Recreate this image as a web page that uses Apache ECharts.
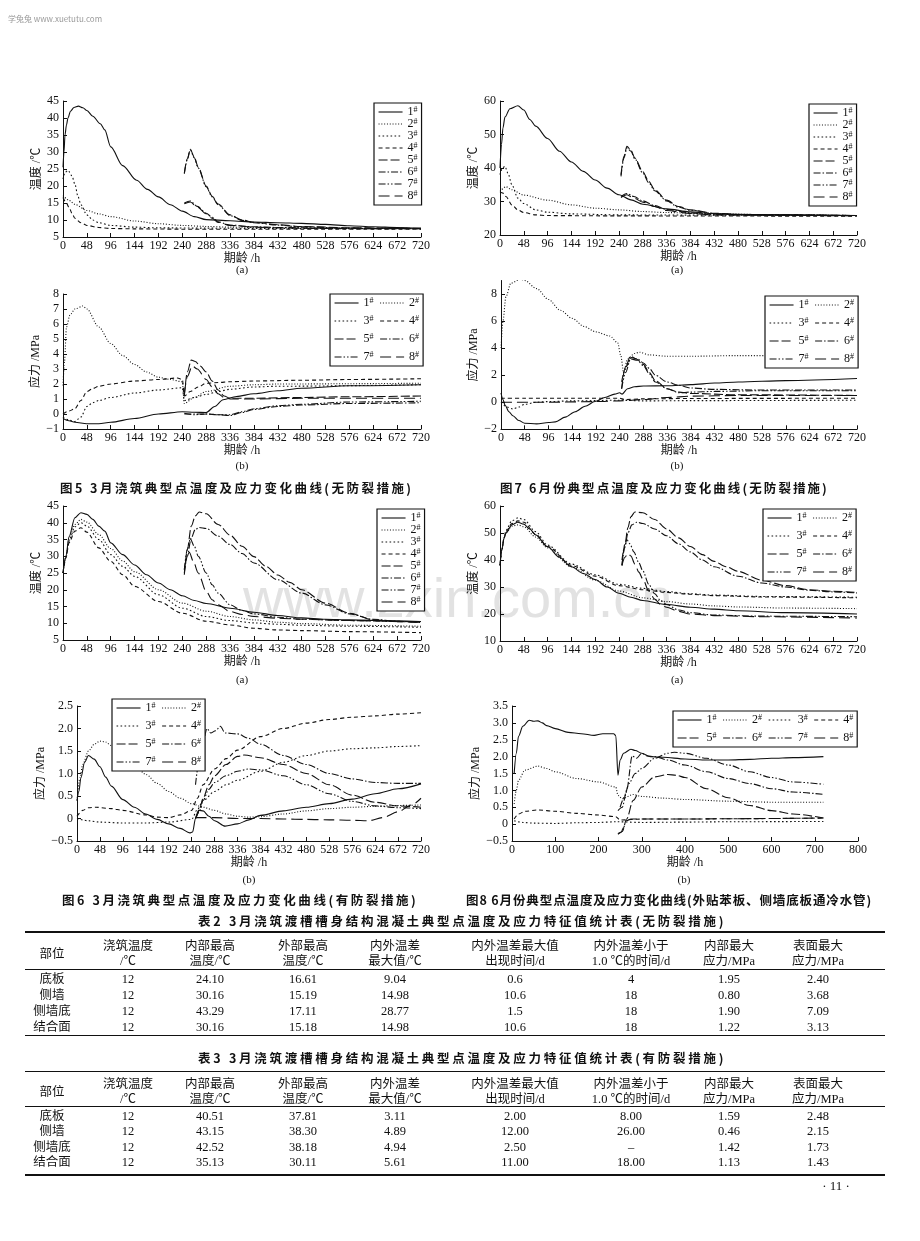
<!DOCTYPE html>
<html><head><meta charset="utf-8">
<script src="https://cdn.jsdelivr.net/npm/echarts@6/dist/echarts.min.js"></script>
<style>
html,body{margin:0;padding:0;background:#fff;}
#page{position:relative;width:920px;height:1241px;overflow:hidden;background:#fff;}
#chart{position:absolute;left:0;top:0;width:920px;height:1241px;}
.cap{position:absolute;font-family:"Noto Sans CJK SC";font-weight:bold;font-size:12.5px;color:#111;white-space:nowrap;line-height:14px;}
.cell{position:absolute;transform:translate(-50%,-50%);white-space:nowrap;line-height:1;font-family:"Liberation Serif","Noto Sans CJK SC";font-size:12.5px;color:#111;}
.rule{position:absolute;background:#111;}
</style></head>
<body><div id="page"><div id="chart"></div></div>
<script>
// ---------------- DATA ----------------
const seriesNames = ['1#','2#','3#','4#','5#','6#','7#','8#'];
const xTicks720 = [0,720,48];
const xTicks800 = [0,800,100];

// Fig.5(a) 3月 温度 无防裂措施
const f5a_1 = [[0,25.5],[2,30],[4,35],[7,38],[10,40],[15,42],[22,43.1],[31,43.5],[40,43],[48,42.2],[60,40.5],[75,38.3],[84,36.5],[96,31.5],[120,26],[148,21.7],[170,19],[192,16.8],[216,14.5],[240,12.6],[264,11],[288,10.1],[336,9.8],[384,9.4],[432,9.2],[480,9.0],[528,8.7],[576,8.3],[624,8.0],[672,7.8],[720,7.6]];
const f5a_2 = [[0,17.2],[12,15.8],[24,14.6],[48,12.8],[72,11.8],[96,11.0],[144,9.7],[192,8.9],[240,8.4],[288,8.1],[336,7.9],[432,7.7],[528,7.6],[624,7.5],[720,7.5]];
const f5a_3 = [[0,22],[4,24],[10,24.6],[18,23],[24,20.5],[30,17],[36,14.5],[48,11.5],[60,10],[72,9.2],[96,8.4],[144,7.9],[192,7.7],[288,7.6],[432,7.5],[720,7.4]];
const f5a_4 = [[0,16.6],[6,15.2],[12,13.8],[18,12],[24,10.5],[36,9.2],[48,8.4],[72,7.8],[96,7.5],[144,7.4],[240,7.3],[480,7.3],[720,7.3]];
const f5a_5 = [[244,23.8],[250,28],[256,30.8],[264,28.5],[272,25.5],[288,20],[300,17],[312,14.7],[336,11.5],[360,10],[384,9.3],[432,8.6],[480,8.1],[576,7.7],[720,7.5]];
const f5a_6 = [[244,15.0],[256,15.6],[270,14],[288,12],[300,10.8],[312,9.5],[336,8.5],[384,8.0],[432,7.8],[528,7.6],[720,7.5]];
const f5a_7 = [[244,23.6],[250,27.8],[256,30.6],[264,28.3],[272,25.3],[288,19.8],[300,16.8],[312,14.5],[336,11.3],[360,9.9],[384,9.2],[432,8.5],[480,8.0],[576,7.6],[720,7.5]];
const f5a_8 = [[244,14.8],[256,15.3],[270,13.8],[288,11.8],[300,10.5],[312,9.3],[336,8.4],[384,7.9],[432,7.7],[528,7.5],[720,7.4]];

// Fig.7(a) 6月 温度 无防裂措施
const f7a_1 = [[0,40],[3,47],[6,52],[10,55.2],[20,57.7],[36,58.6],[48,57.3],[60,54.5],[72,52.5],[96,48.8],[120,45],[144,41.8],[168,39],[192,36.4],[216,34],[240,32],[264,30.5],[288,29.2],[336,27.8],[384,26.9],[432,26.4],[480,26.2],[576,26],[720,25.8]];
const f7a_2 = [[0,33],[12,34.4],[24,33.5],[48,31.9],[96,30.4],[144,29],[192,28],[240,27.5],[288,27],[336,26.7],[432,26.3],[576,26],[720,25.8]];
const f7a_3 = [[0,38],[5,40],[10,40.5],[16,38.5],[24,35],[36,31],[48,29.4],[72,27.5],[96,26.8],[144,26.3],[240,26],[480,25.9],[720,25.8]];
const f7a_4 = [[0,32.8],[6,32.5],[12,31.5],[24,29],[36,27.5],[48,26.7],[72,26],[96,25.8],[240,25.7],[720,25.6]];
const f7a_5 = [[244,38],[250,43.5],[256,46.5],[264,45.3],[272,43],[288,38.9],[300,36],[312,33.5],[336,30.4],[360,28.5],[384,27.5],[432,26.5],[480,26.1],[720,25.8]];
const f7a_6 = [[244,31.5],[256,32.4],[270,31.5],[288,30.2],[312,28.8],[336,27.6],[384,26.6],[432,26.1],[528,25.9],[720,25.8]];
const f7a_7 = [[244,37.5],[250,43],[256,46],[264,45],[272,42.7],[288,38.5],[300,35.6],[312,33.2],[336,30.2],[360,28.3],[384,27.4],[432,26.4],[480,26],[720,25.8]];
const f7a_8 = [[244,31.2],[256,32.0],[270,31.0],[288,29.8],[312,28.5],[336,27.3],[384,26.4],[432,26.0],[720,25.7]];

// Fig.5(b) 3月 应力 无防裂措施
const f5b_1 = [[0,-0.3],[12,-0.45],[24,-0.55],[48,-0.65],[72,-0.65],[96,-0.55],[144,-0.3],[192,0.0],[240,0.15],[264,0.12],[288,0.1],[305,0.5],[322,0.95],[349,1.17],[384,1.35],[432,1.55],[480,1.72],[576,1.88],[720,1.95]];
const f5b_2 = [[0,1.9],[3,3.5],[7,5.8],[14,6.6],[24,7.0],[40,7.2],[48,7.0],[72,5.8],[96,4.7],[120,3.9],[144,3.3],[168,2.8],[192,2.45],[216,2.3],[240,2.15],[244,0.7],[264,1.1],[288,1.5],[336,1.85],[384,1.95],[432,2.0],[720,2.05]];
const f5b_3 = [[0,-0.2],[12,-0.4],[24,-0.5],[36,-0.2],[48,0.5],[60,0.75],[72,0.9],[96,1.1],[144,1.4],[192,1.6],[240,1.75],[244,0.9],[264,1.1],[288,1.3],[312,1.5],[336,1.65],[384,1.8],[432,1.85],[720,1.95]];
const f5b_4 = [[0,0],[12,0.2],[24,0.35],[36,0.9],[48,1.5],[60,1.7],[72,1.85],[96,2.0],[144,2.2],[192,2.3],[230,2.4],[240,2.3],[244,1.2],[256,1.5],[272,1.8],[288,2.05],[312,2.1],[336,2.15],[384,2.2],[480,2.25],[576,2.3],[720,2.35]];
const f5b_5 = [[244,1.2],[250,2.8],[258,3.6],[266,3.5],[276,3.2],[288,2.8],[300,2.2],[312,1.6],[324,1.2],[336,1.05],[384,1.05],[480,1.1],[576,1.15],[720,1.2]];
const f5b_6 = [[244,0.0],[264,0.0],[288,0.0],[312,-0.05],[336,-0.1],[360,0.1],[384,0.3],[432,0.5],[480,0.6],[576,0.7],[720,0.75]];
const f5b_7 = [[244,0.05],[264,-0.05],[288,0.0],[312,-0.05],[336,-0.05],[360,0.15],[384,0.35],[432,0.55],[480,0.65],[576,0.8],[720,0.85]];
const f5b_8 = [[244,1.3],[250,2.5],[260,3.2],[270,3.0],[288,2.3],[300,1.8],[312,1.35],[324,1.1],[336,1.0],[384,1.0],[480,1.05],[720,1.05]];

// Fig.7(b) 6月 应力 无防裂措施
const f7b_1 = [[0,0.7],[4,0.2],[8,-0.2],[16,-0.7],[24,-1.0],[36,-1.35],[48,-1.55],[72,-1.6],[96,-1.5],[110,-1.45],[130,-1.1],[150,-0.7],[170,-0.3],[190,0.05],[210,0.35],[230,0.6],[240,0.7],[245,0.6],[256,1.0],[270,1.15],[288,1.2],[336,1.22],[384,1.3],[432,1.42],[480,1.5],[576,1.6],[720,1.75]];
const f7b_2 = [[0,4.0],[4,6],[10,7.8],[20,8.8],[40,9.1],[48,9.0],[72,8.4],[96,7.6],[120,6.8],[144,6.2],[168,5.6],[192,5.2],[220,4.9],[236,4.4],[242,3.5],[248,2.2],[256,3.2],[270,3.6],[280,3.7],[300,3.5],[336,3.4],[384,3.4],[480,3.45],[576,3.45],[720,3.5]];
const f7b_3 = [[0,0.0],[12,-0.35],[24,-0.5],[36,-0.35],[48,-0.15],[72,0.0],[96,0.05],[144,0.1],[240,0.15],[288,0.1],[384,0.12],[720,0.15]];
const f7b_4 = [[0,0.3],[48,0.3],[144,0.3],[240,0.3],[250,0.2],[288,0.25],[384,0.28],[720,0.3]];
const f7b_5 = [[244,1.0],[250,2.4],[262,3.4],[274,3.2],[288,2.8],[300,2.2],[312,1.6],[336,1.0],[360,0.75],[384,0.65],[480,0.55],[720,0.5]];
const f7b_6 = [[244,1.5],[252,2.6],[264,3.3],[276,3.2],[288,2.9],[300,2.5],[312,2.0],[336,1.5],[360,1.25],[384,1.05],[432,0.95],[528,0.9],[720,0.9]];
const f7b_7 = [[244,1.0],[252,2.2],[262,3.2],[276,3.1],[288,2.7],[300,2.1],[312,1.5],[336,1.0],[360,0.7],[384,0.75],[432,0.8],[528,0.85],[720,0.85]];
const f7b_8 = [[0,0.0],[96,0.0],[192,0.05],[240,0.1],[288,0.2],[336,0.35],[384,0.45],[480,0.5],[720,0.5]];

// Fig.6(a) 3月 温度 有防裂措施
const f6a_1 = [[0,25],[6,30],[12,35.8],[24,41.5],[36,43],[48,42.5],[60,41],[72,39],[84,37.5],[96,34],[120,30.5],[144,27.4],[168,24.5],[192,22],[216,20],[240,18.2],[264,16.8],[288,15.9],[336,14.5],[384,13.3],[432,12.3],[480,11.6],[528,11.2],[576,11.0],[672,10.7],[720,10.5]];
const f6a_2 = [[0,25],[6,30],[12,35],[24,39.5],[36,41],[48,40.2],[72,36.5],[96,32.3],[120,28.6],[144,25.4],[192,20],[240,16],[288,13.6],[336,12],[384,11],[432,10.3],[480,9.9],[576,9.4],[720,9.1]];
const f6a_3 = [[0,25],[6,30],[12,34.5],[24,38.8],[36,40],[48,39],[72,35],[96,30.5],[120,27],[144,24],[192,18.5],[240,14.5],[288,12],[336,10.8],[384,10.1],[432,9.7],[480,9.4],[576,9.1],[720,8.8]];
const f6a_4 = [[0,25],[6,29.5],[12,34],[24,37.5],[36,38.5],[48,37.2],[72,32.5],[96,28.5],[120,24.5],[144,21],[192,16.5],[240,13],[288,10.6],[336,9.5],[384,8.5],[432,8.0],[480,7.8],[576,7.5],[720,7.2]];
const f6a_5 = [[244,24.5],[250,32],[258,39],[266,42],[274,43.2],[288,42.7],[312,39.5],[336,36.3],[360,33],[384,29.9],[408,27],[432,24.4],[456,22.2],[480,20],[528,16],[576,13],[624,11],[672,10.5],[720,10.3]];
const f6a_6 = [[244,25],[250,30],[258,35.5],[266,38],[274,38.6],[288,38.3],[312,36],[336,33.5],[360,30.8],[384,28],[432,23],[480,19],[528,15.5],[576,12.8],[624,11.2],[672,10.6],[720,10.2]];
const f6a_7 = [[244,26],[250,32],[256,35.2],[264,33],[272,30],[288,25],[300,21.5],[312,19],[336,15.5],[360,13.8],[384,12.8],[432,11.8],[480,11.2],[576,10.8],[720,10.4]];
const f6a_8 = [[244,26],[250,30],[254,31.2],[262,28.5],[272,25],[288,19.5],[300,17],[312,15.5],[336,13.5],[360,12.6],[384,12],[432,11.5],[480,11.2],[576,10.8],[720,10.3]];

// Fig.8(a) 6月 温度 外贴苯板、通冷水管
const f8a_1 = [[0,38],[4,44],[8,48],[12,50],[24,53],[36,54],[48,53.3],[60,51.5],[72,49.3],[96,44.9],[120,41],[144,37.5],[168,35],[192,32.8],[216,30],[240,27.7],[264,26.2],[288,25],[336,23.5],[384,22.5],[432,21.8],[480,21.2],[576,20.5],[720,20]];
const f8a_2 = [[0,38],[4,44],[8,48],[12,50],[24,52.5],[36,53],[48,52.3],[72,48.5],[96,44.5],[144,37.5],[192,32.5],[240,28.5],[288,26],[336,24.6],[384,23.7],[432,23],[480,22.6],[576,22.2],[720,22]];
const f8a_3 = [[0,38],[4,44],[8,48],[12,51],[24,54.5],[36,55.6],[48,55],[72,50.5],[96,45.5],[144,38.5],[192,34.5],[240,31],[288,29.5],[336,28.3],[384,27.5],[432,27],[528,26.5],[720,26.2]];
const f8a_4 = [[0,38],[4,44],[8,48],[12,50.5],[24,53.5],[36,54.5],[48,54],[72,49.5],[96,45],[144,38],[192,34],[240,30.5],[288,29],[336,28],[384,27.3],[432,26.8],[528,26.3],[720,26]];
const f8a_5 = [[246,38],[252,46],[258,52],[264,56],[272,57.8],[288,57.5],[312,55],[336,51.5],[360,48.2],[384,45],[408,42],[432,39.5],[456,37.5],[480,35.8],[528,32.5],[576,30.5],[624,29],[672,28.4],[720,28]];
const f8a_6 = [[246,38],[252,45],[258,50],[266,53],[276,54],[288,53.5],[312,51.5],[336,49],[360,46],[384,43],[408,40],[432,37.5],[480,34],[528,31.5],[576,30],[624,28.8],[672,28.2],[720,27.8]];
const f8a_7 = [[246,40],[250,44],[256,47.5],[262,46],[270,43],[280,39],[288,36],[300,31],[312,27.5],[324,25],[336,23.5],[360,21.5],[384,20.5],[432,19.6],[528,19.2],[720,19]];
const f8a_8 = [[246,38],[252,41],[258,42.5],[264,41.5],[272,38.5],[280,35.5],[288,33],[300,28.5],[312,25.5],[324,23.5],[336,22.5],[360,21],[384,20],[432,19.4],[528,19],[720,18.5]];

// Fig.6(b) 3月 应力 有防裂措施
const f6b_1 = [[0,0.4],[4,0.6],[8,0.9],[16,1.25],[24,1.4],[36,1.32],[48,1.15],[60,0.92],[72,0.72],[96,0.42],[120,0.25],[144,0.1],[168,-0.02],[192,-0.12],[216,-0.22],[236,-0.32],[242,-0.3],[248,0.0],[256,0.18],[264,0.17],[276,0.05],[288,-0.05],[310,-0.17],[336,-0.12],[360,-0.03],[384,0.07],[432,0.17],[480,0.25],[528,0.33],[576,0.43],[624,0.55],[672,0.66],[720,0.77]];
const f6b_2 = [[0,0.4],[6,0.9],[12,1.2],[24,1.5],[36,1.65],[48,1.72],[60,1.7],[72,1.62],[96,1.42],[120,1.2],[144,0.98],[168,0.78],[192,0.6],[216,0.45],[240,0.33],[264,0.25],[288,0.18],[312,0.1],[336,0.05],[360,0.03],[384,0.04],[432,0.1],[480,0.17],[528,0.22],[576,0.25],[624,0.27],[672,0.29],[720,0.3]];
const f6b_3 = [[0,0.0],[24,-0.05],[48,-0.08],[96,-0.1],[144,-0.1],[192,-0.08],[240,-0.02],[252,0.2],[264,0.4],[288,0.6],[312,0.75],[336,0.85],[384,1.05],[432,1.25],[480,1.4],[528,1.5],[576,1.55],[624,1.57],[672,1.6],[720,1.62]];
const f6b_4 = [[0,0.05],[12,0.18],[24,0.24],[40,0.25],[72,0.22],[96,0.18],[144,0.08],[168,0.03],[192,0.02],[216,0.08],[240,0.18],[252,0.45],[264,0.75],[288,1.1],[312,1.33],[336,1.52],[384,1.82],[432,2.0],[480,2.12],[528,2.2],[576,2.25],[624,2.28],[672,2.32],[720,2.35]];
const f6b_5 = [[248,0.0],[256,0.2],[264,0.45],[276,0.75],[288,0.95],[312,1.2],[336,1.38],[350,1.41],[384,1.35],[432,1.2],[480,1.0],[528,0.75],[576,0.52],[624,0.36],[672,0.28],[720,0.25]];
const f6b_6 = [[248,0.75],[256,1.3],[264,1.7],[272,2.0],[280,1.9],[290,1.95],[300,2.05],[310,1.9],[336,1.88],[360,1.78],[384,1.65],[432,1.4],[480,1.2],[528,1.0],[576,0.88],[624,0.8],[672,0.78],[720,0.78]];
const f6b_7 = [[248,0.0],[256,0.15],[264,0.4],[276,0.65],[288,0.8],[312,0.95],[336,1.05],[360,1.1],[384,1.08],[432,0.95],[480,0.75],[528,0.55],[576,0.38],[624,0.28],[672,0.24],[720,0.22]];
const f6b_8 = [[248,0.02],[288,0.02],[336,0.0],[384,0.0],[432,-0.01],[480,-0.02],[528,-0.03],[576,-0.04],[610,-0.05],[640,0.02],[672,0.15],[700,0.3],[720,0.45]];

// Fig.8(b) 6月 应力 外贴苯板、通冷水管
const f8b_1 = [[5,1.5],[10,2.1],[15,2.6],[25,2.9],[40,3.08],[50,3.05],[60,3.06],[70,3.0],[80,2.92],[100,2.83],[130,2.72],[160,2.68],[190,2.63],[210,2.68],[235,2.68],[240,2.62],[245,1.45],[250,1.9],[258,2.1],[275,2.22],[285,2.18],[300,2.1],[320,2.0],[350,1.98],[400,1.93],[450,1.9],[500,1.9],[550,1.92],[600,1.95],[650,1.97],[720,2.0]];
const f8b_2 = [[5,0.6],[10,1.0],[15,1.3],[30,1.6],[60,1.72],[80,1.65],[100,1.55],[150,1.35],[200,1.25],[240,1.1],[245,0.85],[255,0.75],[280,0.88],[300,0.82],[350,0.77],[400,0.73],[500,0.68],[600,0.65],[720,0.65]];
const f8b_3 = [[5,0.1],[25,0.05],[50,0.03],[100,0.02],[150,0.04],[200,0.05],[240,0.07],[300,0.05],[400,0.06],[500,0.07],[720,0.08]];
const f8b_4 = [[5,0.15],[15,0.3],[30,0.38],[60,0.42],[100,0.38],[150,0.32],[200,0.27],[240,0.22],[250,0.12],[300,0.15],[400,0.15],[500,0.16],[720,0.18]];
const f8b_5 = [[245,-0.3],[255,-0.22],[265,0.15],[280,0.7],[300,1.1],[330,1.4],[360,1.47],[380,1.45],[400,1.38],[450,1.05],[500,0.78],[550,0.55],[600,0.4],[650,0.3],[720,0.18]];
const f8b_6 = [[245,0.4],[255,0.5],[265,1.0],[278,2.02],[288,1.95],[300,2.1],[312,2.02],[330,2.0],[360,1.9],[400,1.75],[450,1.55],[500,1.35],[550,1.2],[600,1.05],[650,0.95],[720,0.88]];
const f8b_7 = [[250,0.5],[260,0.8],[270,1.2],[285,1.5],[300,1.65],[330,1.95],[360,2.1],[375,2.13],[400,2.1],[450,1.95],[500,1.75],[550,1.55],[600,1.38],[650,1.25],[720,1.18]];
const f8b_8 = [[245,-0.28],[252,-0.25],[258,-0.1],[264,0.1],[275,0.15],[300,0.15],[400,0.15],[500,0.16],[720,0.18]];

// Tables
const tableHead = [['部位'],['浇筑温度','/℃'],['内部最高','温度/℃'],['外部最高','温度/℃'],['内外温差','最大值/℃'],['内外温差最大值','出现时间/d'],['内外温差小于','1.0 ℃的时间/d'],['内部最大','应力/MPa'],['表面最大','应力/MPa']];
const table2Rows = [
  ['底板','12','24.10','16.61','9.04','0.6','4','1.95','2.40'],
  ['侧墙','12','30.16','15.19','14.98','10.6','18','0.80','3.68'],
  ['侧墙底','12','43.29','17.11','28.77','1.5','18','1.90','7.09'],
  ['结合面','12','30.16','15.18','14.98','10.6','18','1.22','3.13']];
const table3Rows = [
  ['底板','12','40.51','37.81','3.11','2.00','8.00','1.59','2.48'],
  ['侧墙','12','43.15','38.30','4.89','12.00','26.00','0.46','2.15'],
  ['侧墙底','12','42.52','38.18','4.94','2.50','–','1.42','1.73'],
  ['结合面','12','35.13','30.11','5.61','11.00','18.00','1.13','1.43']];

// ---------------- LAYOUT / STYLE ----------------
const dashes = ['solid',[1,1.8],[1.6,2.4],[4,3],[9,3],[7,2,1.5,2],[7,2,1.5,2,1.5,2],[11,5]];
const SERIF = '"Liberation Serif","Noto Sans CJK SC"';
const panels = [
  {d:[f5a_1,f5a_2,f5a_3,f5a_4,f5a_5,f5a_6,f5a_7,f5a_8], x:xTicks720, y:[5,45,5], yName:'温度 /℃', g:[63,101,358,136], yGap:16, xGap:15, lg:{left:374,top:103,orient:'vertical'}, sub:[242,270,'(a)']},
  {d:[f7a_1,f7a_2,f7a_3,f7a_4,f7a_5,f7a_6,f7a_7,f7a_8], x:xTicks720, y:[20,60,10], yName:'温度 /℃', g:[500,101,357,134], yGap:19, xGap:15, lg:{left:809,top:104,orient:'vertical'}, sub:[677,270,'(a)']},
  {d:[f5b_1,f5b_2,f5b_3,f5b_4,f5b_5,f5b_6,f5b_7,f5b_8], x:xTicks720, y:[-1,8,1], yName:'应力 /MPa', g:[63,294,358,135], yGap:16, xGap:15, lg:{left:330,top:294,width:92}, sub:[242,466,'(b)']},
  {d:[f7b_1,f7b_2,f7b_3,f7b_4,f7b_5,f7b_6,f7b_7,f7b_8], x:xTicks720, y:[-2,9,2], yName:'应力 /MPa', g:[501,280.5,356,148.8], yGap:20, xGap:15, lg:{left:765,top:296,width:92}, sub:[677,466,'(b)']},
  {d:[f6a_1,f6a_2,f6a_3,f6a_4,f6a_5,f6a_6,f6a_7,f6a_8], x:xTicks720, y:[5,45,5], yName:'温度 /℃', g:[63,506,358,134], yGap:16, xGap:15, lg:{left:377,top:509,orient:'vertical'}, sub:[242,680,'(a)']},
  {d:[f8a_1,f8a_2,f8a_3,f8a_4,f8a_5,f8a_6,f8a_7,f8a_8], x:xTicks720, y:[10,60,10], yName:'温度 /℃', g:[500,506,357,135], yGap:19, xGap:15, lg:{left:763,top:509,width:93}, sub:[677,680,'(a)']},
  {d:[f6b_1,f6b_2,f6b_3,f6b_4,f6b_5,f6b_6,f6b_7,f6b_8], x:xTicks720, y:[-0.5,2.5,0.5], yName:'应力 /MPa', g:[77,706,344,135], yGap:27, xGap:15, lg:{left:112,top:699,width:90}, sub:[249,880,'(b)']},
  {d:[f8b_1,f8b_2,f8b_3,f8b_4,f8b_5,f8b_6,f8b_7,f8b_8], x:xTicks800, y:[-0.5,3.5,0.5], yName:'应力 /MPa', g:[512,706,346,135], yGap:27, xGap:15, lg:{left:673,top:711,width:192}, sub:[684,880,'(b)']}
];

function numFmt(v, dec){
  let s = (v === 0) ? '0' : (dec ? Math.abs(v).toFixed(1) : String(Math.abs(v)));
  return (v < 0 ? '\u2212' : '') + s;
}

const grid = [], xAxis = [], yAxis = [], legend = [], series = [], gfx = [];
panels.forEach((p, i) => {
  grid.push({left:p.g[0], top:p.g[1], width:p.g[2], height:p.g[3]});
  const axisCommon = {
    type:'value', gridIndex:i, splitLine:{show:false},
    axisLine:{show:true, onZero:false, lineStyle:{color:'#111', width:1}},
    axisTick:{show:true, inside:true, length:4, lineStyle:{color:'#111', width:1}},
    nameLocation:'middle',
    nameTextStyle:{fontFamily:SERIF, fontSize:12, color:'#111'}
  };
  xAxis.push(Object.assign({}, axisCommon, {
    min:p.x[0], max:p.x[1], interval:p.x[2], name:'期龄 /h', nameGap:p.xGap,
    axisLabel:{margin:3, fontFamily:SERIF, fontSize:12, color:'#111', showMaxLabel:true}
  }));
  const dec = p.y[2] < 1;
  yAxis.push(Object.assign({}, axisCommon, {
    min:p.y[0], max:p.y[1], interval:p.y[2], name:p.yName, nameGap:p.yGap,
    axisLabel:{margin:4, fontFamily:SERIF, fontSize:12, color:'#111',
      showMaxLabel:(p.y[1]-p.y[0]) % p.y[2] === 0, formatter:v => numFmt(v, dec)}
  }));
  legend.push(Object.assign({
    data:seriesNames, selectedMode:false, itemWidth:24, itemHeight:10, itemGap:4,
    padding:[3,4,3,4], borderColor:'#111', borderWidth:1.2, backgroundColor:'#fff',
    orient:'horizontal',
    itemStyle:{opacity:0, color:'rgba(0,0,0,0)', borderWidth:0},
    lineStyle:{color:'#111', width:1.1},
    formatter:n => '{a|' + n.replace('#','') + '}{b|#}',
    textStyle:{fontFamily:SERIF, fontSize:12, color:'#111',
      rich:{a:{fontFamily:SERIF, fontSize:12, color:'#111'}, b:{fontFamily:SERIF, fontSize:8, color:'#111', verticalAlign:'top'}}}
  }, p.lg, p.lg.orient === 'vertical' ? {itemGap:0} : {itemGap:6}));
  p.d.forEach((d, k) => {
    series.push({type:'line', name:seriesNames[k], xAxisIndex:i, yAxisIndex:i, data:d,
      symbol:'none', smooth:0.3, smoothMonotone:'x', silent:true, animation:false, z:3,
      itemStyle:{color:'#111', opacity:0},
      lineStyle:{color:'#111', width:1.1, type:dashes[k]}});
  });
  gfx.push({type:'text', x:p.sub[0], y:p.sub[1], style:{text:p.sub[2], font:'11px "Liberation Serif"', fill:'#111', textAlign:'center', textVerticalAlign:'middle'}});
});
gfx.push({type:'text', x:243, y:630, z:-10, style:{text:'www.zxin.com.cn', font:'56px "Liberation Sans"', fill:'#e2e2e2', textAlign:'left', textVerticalAlign:'bottom'}});
gfx.push({type:'text', x:8, y:19, style:{text:'学兔兔 www.xuetutu.com', font:'8px "Noto Sans CJK SC"', fill:'#9a9a9a', textVerticalAlign:'middle'}});
gfx.push({type:'text', x:836, y:1187, style:{text:'· 11 ·', font:'13px "Liberation Serif"', fill:'#111', textAlign:'center', textVerticalAlign:'middle'}});

const chart = echarts.init(document.getElementById('chart'), null, {renderer:'canvas'});
chart.setOption({animation:false, backgroundColor:'transparent', grid, xAxis, yAxis, legend, series, graphic:{elements:gfx}});

// ---------------- CAPTIONS & TABLES (HTML) ----------------
const page = document.getElementById('page');
function cap(text, left, right, cy){
  const el = document.createElement('div'); el.className = 'cap'; el.textContent = text;
  el.style.left = left + 'px'; el.style.top = (cy - 7) + 'px';
  page.appendChild(el);
  const w = el.getBoundingClientRect().width;
  const n = text.length;
  el.style.letterSpacing = ((right - left) - w) / n + 'px';
}
cap('图5  3月浇筑典型点温度及应力变化曲线(无防裂措施)', 60, 416, 488);
cap('图7  6月份典型点温度及应力变化曲线(无防裂措施)', 500, 831, 488);
cap('图6  3月浇筑典型点温度及应力变化曲线(有防裂措施)', 62, 421, 900);
cap('图8  6月份典型点温度及应力变化曲线(外贴苯板、侧墙底板通冷水管)', 466, 873, 900);
cap('表2  3月浇筑渡槽槽身结构混凝土典型点温度及应力特征值统计表(无防裂措施)', 198, 729, 921);
cap('表3  3月浇筑渡槽槽身结构混凝土典型点温度及应力特征值统计表(有防裂措施)', 198, 729, 1058);

const colX = [52,128,210,303,395,515,631,729,818];
function cell(text, x, y){
  const el = document.createElement('div'); el.className = 'cell'; el.textContent = text;
  el.style.left = x + 'px'; el.style.top = y + 'px'; page.appendChild(el);
}
function rule(y, h){
  const el = document.createElement('div'); el.className = 'rule';
  el.style.left = '25px'; el.style.width = '860px'; el.style.top = (y - h/2) + 'px'; el.style.height = h + 'px';
  page.appendChild(el);
}
function table(rows, rTop, rMid, rBot, h1, h2, rowYs){
  rule(rTop, 1.8); rule(rMid, 0.9); rule(rBot, 1.8);
  tableHead.forEach((h, c) => {
    if (h.length === 1) cell(h[0], colX[c], (h1 + h2) / 2);
    else { cell(h[0], colX[c], h1); cell(h[1], colX[c], h2); }
  });
  rows.forEach((r, ri) => r.forEach((v, c) => cell(v, colX[c], rowYs[ri])));
}
table(table2Rows, 932, 969.5, 1035.5, 946, 961, [979, 995, 1011, 1027]);
table(table3Rows, 1071.5, 1106, 1175, 1084, 1099, [1116, 1131, 1147, 1162]);
</script>
</body></html>
